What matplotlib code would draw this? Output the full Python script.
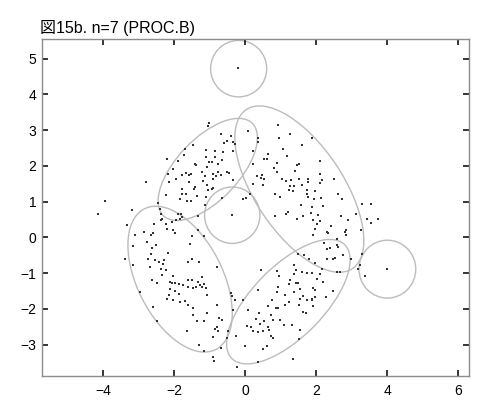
import matplotlib
matplotlib.use("Agg")
import matplotlib.pyplot as plt
from matplotlib.patches import Ellipse

TITLE = "図15b. n=7 (PROC.B)"

# mixture components: centre x, centre y, width, height, angle (deg)
comp_cx = [-0.18, 4.01, -0.36, -1.05, 1.53, -1.83, 1.22]
comp_cy = [4.72, -0.89, 0.62, 1.90, 1.35, -1.17, -1.80]
comp_w = [1.58, 1.60, 1.56, 3.60, 5.36, 4.42, 4.50]
comp_h = [1.58, 1.62, 1.58, 1.74, 2.48, 2.40, 2.00]
comp_ang = [0, 0, 0, 46, -56, -62.8, 45]

# sample points
pts_x = [
    # upper-left group
    -1.01, -1.03, -1.47, -1.69, -1.71, -1.10, -1.88, -1.41, -1.38, -2.19,
    -2.02, -1.22, -2.16, -1.66, -1.59, -1.52, -1.78, -1.94, -1.13, -1.59,
    -2.14, -1.19, -1.41, -1.44, -1.78, -1.78, -1.66, -1.03, -2.23, -1.34,
    -1.83, -1.64, -1.53, -1.13, -2.79, -3.94, -4.13, -3.19, -2.46, -2.39,
    -2.37, -2.35, -2.37, -2.56, -2.23, -2.06, -1.94, -1.83, -1.78, -1.90,
    -1.81, -1.32, -2.21, -2.02, -3.32, -3.10, -2.84, -1.32, -2.60,
    -0.68, -0.40, -0.50, -0.59, -0.33, -0.28, 0.09, 0.37, 0.37, -0.35,
    0.23, -0.61, -0.85, -1.10, -0.85, -1.01, -0.94, -0.66, -0.75, -1.08,
    -0.75, -0.50, -0.44, -0.91, -0.82, -0.68, -0.91, -0.33, -1.08, -0.91,
    -0.92, -1.10, -0.66, -0.06, 0.03, 0.14, -0.37, -0.19,
    # upper-right group
    0.94, 1.27, 0.97, 1.88, 1.60, 1.08, 0.66, 1.19, 0.54, 0.63,
    0.89, 1.46, 1.52, 0.82, 0.89, 1.41, 0.23, 0.33, 0.45, 0.47,
    0.54, 0.52, 0.22, 1.03, 1.15, 1.29, 1.53, 1.77, 1.77, 1.27,
    1.39, 1.60, 1.25, 1.34, 1.74, 0.85, 0.99, 1.76, 1.78, 1.58,
    1.88, 1.22, 1.15, 0.85, 1.47, 1.64, 1.91, 2.02, 1.97, 2.06,
    2.11, 2.11, 2.16, 2.11, 2.51, 1.97, 1.94, 2.14, 2.63, 2.72,
    2.19, 3.29, 3.55, 1.85, 2.70, 3.13, 3.45, 3.75, 3.54, 2.11,
    2.91, 2.41, 2.85, 3.26, 2.35,
    1.92, 2.32, 2.82, 2.85, 2.58, 2.23, 2.39, 2.32, 2.58, 2.63,
    2.75, 2.54, 2.47, 2.32, 2.98, 3.29, 3.24, 3.17, 2.68, 2.60,
    3.38, 3.99,
    # lower-right group
    1.97, 1.88, 2.11, 2.16, 2.04, 2.19, 1.91, 1.97, 2.47, 1.97,
    2.28, 1.88, 1.92,
    1.50, 1.66, 1.81, 1.38, 1.44, 1.39, 1.60, 1.74, 0.91, 0.97,
    0.45, 1.27, 1.25, 1.44, 1.50, 1.55, 1.39, 0.94, 0.91, 0.37,
    1.13, 1.64, 1.74, 1.88, 1.55, 0.75, 1.25, 1.53, 1.13, 0.94,
    0.87, 1.62, 1.72, 0.66, -0.06, 0.09, 0.40, 0.73, 0.78, 0.99,
    1.10, 1.32, 0.31, 0.42, 0.54, 0.66, 0.68, 0.23, 0.37, 0.50,
    0.16, 0.05, 1.55, 1.53, 0.80, 0.72, -0.25, 0.00, 0.52, 0.61,
    0.37, -0.23, 1.36,
    # lower-left group
    -0.89, -0.87, -1.15, -0.68, -0.91, -0.75, -0.85, -0.78, -0.47, -0.52,
    -0.72, -0.66, -1.08, -1.15, -0.78, -0.33, -0.28, -0.37, -0.40, -1.08,
    -1.22, -1.17, -1.10, -0.80, -1.22,
    -2.65, -1.97, -1.55, -1.48, -1.17, -3.15, -2.75, -2.63, -2.51, -2.66,
    -2.18, -3.38, -2.72, -2.54, -2.41, -2.28, -2.30, -1.50, -1.60, -1.29,
    -3.15, -2.68, -2.37, -2.23, -2.35, -2.02, -2.63, -2.47, -2.11, -2.06,
    -1.97, -1.85, -1.75, -1.60, -1.50, -1.32, -1.60, -1.46, -1.38, -1.27,
    -2.11, -1.97, -1.85, -2.96, -2.13, -2.19, -2.04, -1.83, -1.69, -1.60,
    -1.47, -2.58, -1.46, -1.36, -2.49, -1.64, -1.29,
]
pts_y = [
    # upper-left group
    3.20, 3.11, 2.58, 2.46, 2.30, 2.44, 2.14, 2.06, 2.02, 2.18,
    1.92, 1.83, 1.78, 1.80, 1.74, 1.78, 1.74, 1.64, 1.71, 1.55,
    1.55, 1.58, 1.41, 1.36, 1.34, 1.22, 1.22, 1.32, 1.18, 1.15,
    1.06, 1.02, 1.02, 0.90, 1.55, 1.02, 0.64, 0.77, 0.97, 0.78,
    0.64, 0.52, 0.48, 0.38, 0.38, 0.43, 0.48, 0.50, 0.57, 0.66,
    0.66, 0.59, 0.24, 0.20, 0.34, 0.07, 0.15, 0.20, 0.12,
    2.90, 2.83, 2.70, 2.64, 2.66, 2.62, 2.97, 2.77, 2.66, 2.42,
    2.42, 2.39, 2.42, 2.25, 2.25, 2.11, 2.11, 2.16, 2.04, 1.97,
    1.83, 1.83, 1.80, 1.76, 1.71, 1.74, 1.64, 1.60, 1.46, 1.39,
    1.34, 1.13, 1.11, 1.06, 1.10, 1.20, 0.62, 4.74,
    # upper-right group
    3.14, 2.90, 2.78, 2.78, 2.59, 2.47, 2.32, 2.27, 2.18, 2.18,
    2.09, 2.02, 2.06, 1.94, 1.83, 1.85, 2.04, 1.71, 1.67, 1.74,
    1.64, 1.46, 1.50, 1.62, 1.58, 1.60, 1.62, 1.62, 1.55, 1.43,
    1.43, 1.46, 1.32, 1.30, 1.32, 1.22, 1.13, 1.20, 1.13, 0.90,
    0.85, 0.71, 0.64, 0.59, 0.52, 0.59, 0.48, 0.38, 0.24, 0.62,
    2.13, 1.78, 1.60, 1.52, 1.64, 1.30, 1.06, 1.10, 1.20, 1.08,
    0.87, 0.92, 0.92, 0.69, 0.61, 0.66, 0.52, 0.52, 0.39, 0.46,
    0.48, 0.31, 0.20, 0.20, 0.12,
    0.06, 0.15, 0.15, 0.06, -0.04, -0.15, -0.29, -0.32, -0.22, -0.27,
    -0.50, -0.57, -0.62, -0.62, -0.62, -0.48, -0.76, -0.88, -0.96, -0.96,
    -1.09, -0.88,
    # lower-right group
    -0.72, -1.00, -1.02, -0.88, -1.16, -1.25, -1.41, -1.47, -1.50, -1.67,
    -1.67, -1.72, -1.93,
    -0.48, -0.50, -0.62, -0.78, -0.92, -1.02, -0.97, -1.00, -0.94, -1.08,
    -0.90, -1.20, -1.30, -1.28, -1.28, -1.44, -1.53, -1.39, -1.53, -1.47,
    -1.62, -1.65, -1.76, -1.76, -1.72, -1.75, -1.81, -1.88, -1.89, -1.97,
    -1.97, -2.09, -2.12, -1.93, -1.76, -2.04, -2.12, -2.18, -2.31, -2.31,
    -2.46, -2.45, -2.28, -2.42, -2.34, -2.51, -2.59, -2.61, -2.65, -2.63,
    -2.51, -2.48, -2.59, -2.84, -2.81, -2.77, -2.75, -3.03, -3.12, -3.05,
    -3.49, -3.63, -3.40,
    # lower-left group
    -3.34, -3.46, -3.18, -3.10, -2.79, -2.61, -2.56, -2.51, -2.61, -2.81,
    -2.25, -2.31, -2.12, -2.33, -1.88, -2.03, -1.76, -1.65, -1.56, -1.62,
    -1.39, -1.30, -1.41, -0.83, -1.11,
    0.06, 0.12, -0.18, 0.03, 0.03, -0.25, -0.13, -0.29, -0.22, -0.46,
    -0.44, -0.60, -0.62, -0.64, -0.69, -0.64, -0.74, -0.62, -0.69, -0.69,
    -0.78, -0.83, -0.88, -0.92, -1.05, -1.09, -1.18, -1.27, -1.25, -1.28,
    -1.28, -1.30, -1.32, -1.20, -1.20, -1.25, -1.39, -1.41, -1.39, -1.34,
    -1.44, -1.50, -1.58, -1.52, -1.62, -1.72, -1.76, -1.81, -1.78, -1.88,
    -1.97, -1.94, -2.18, -2.34, -2.35, -2.62, -3.00,
]

XTICKS = [-4, -2, 0, 2, 4, 6]
YTICKS = [-3, -2, -1, 0, 1, 2, 3, 4, 5]

plt.rcParams["font.family"] = ["Liberation Sans", "Noto Sans CJK JP"]

fig = plt.figure(figsize=(4.92, 4.17), dpi=100, facecolor="white")
ax = fig.add_axes([42 / 492, 1 - 376 / 417, 427 / 492, 337 / 417])

for cx, cy, w, h, a in zip(comp_cx, comp_cy, comp_w, comp_h, comp_ang):
    ax.add_patch(Ellipse((cx, cy), w, h, angle=a, fill=False,
                         edgecolor="#bcbcbc", linewidth=1.0))

ax.plot(pts_x, pts_y, linestyle="none", marker="s", markersize=1.9,
        markeredgewidth=0, color="#333333")

ax.set_xlim(-5.72, 6.31)
ax.set_ylim(-3.88, 5.55)
ax.set_xticks(XTICKS)
ax.set_yticks(YTICKS)
ax.tick_params(direction="in", top=True, right=True, length=4, width=1.1,
               colors="black", labelsize=10)
ax.tick_params(axis="x", pad=6)
ax.tick_params(axis="y", pad=4)
for spine in ax.spines.values():
    spine.set_edgecolor("#8c8c8c")
    spine.set_linewidth(1.0)

fig.text(40 / 492, 1 - 33 / 417, TITLE, fontsize=11.5, ha="left",
         va="baseline")

fig.savefig("out.png", dpi=100, facecolor="white")
